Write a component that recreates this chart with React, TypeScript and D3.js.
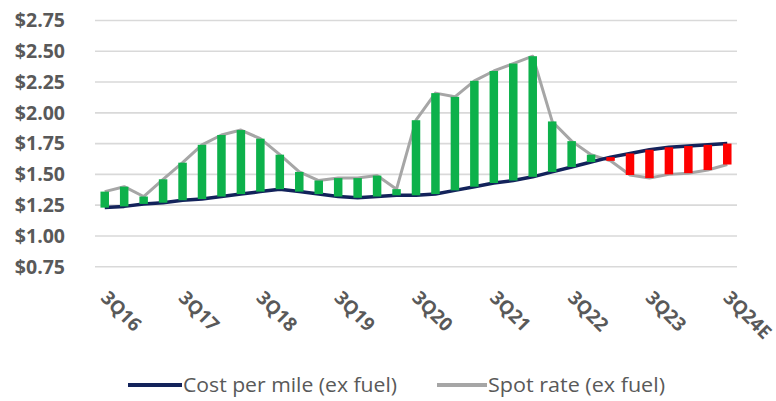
import React from "react";
import * as d3 from "d3";

const quarters = [
  "3Q16", "4Q16", "1Q17", "2Q17", "3Q17", "4Q17", "1Q18", "2Q18",
  "3Q18", "4Q18", "1Q19", "2Q19", "3Q19", "4Q19", "1Q20", "2Q20",
  "3Q20", "4Q20", "1Q21", "2Q21", "3Q21", "4Q21", "1Q22", "2Q22",
  "3Q22", "4Q22", "1Q23", "2Q23", "3Q23", "4Q23", "1Q24E", "2Q24E", "3Q24E",
];
const costPerMile = [
  1.23, 1.24, 1.26, 1.27, 1.29, 1.30, 1.32, 1.34, 1.36, 1.38, 1.36, 1.34,
  1.32, 1.31, 1.32, 1.33, 1.33, 1.34, 1.37, 1.40, 1.43, 1.45, 1.48, 1.52,
  1.56, 1.60, 1.64, 1.67, 1.70, 1.72, 1.73, 1.74, 1.75,
];
const spotRate = [
  1.36, 1.40, 1.32, 1.46, 1.595, 1.74, 1.82, 1.86, 1.79, 1.66, 1.52, 1.45,
  1.47, 1.47, 1.49, 1.38, 1.94, 2.16, 2.13, 2.26, 2.34, 2.40, 2.46, 1.93,
  1.77, 1.66, 1.61, 1.495, 1.47, 1.50, 1.51, 1.535, 1.58,
];
const yTicks = [0.75, 1.0, 1.25, 1.5, 1.75, 2.0, 2.25, 2.5, 2.75];
const xLabels = ["3Q16", "3Q17", "3Q18", "3Q19", "3Q20", "3Q21", "3Q22", "3Q23", "3Q24E"];
const seriesNames = ["Cost per mile (ex fuel)", "Spot rate (ex fuel)"];

const W = 776;
const H = 401;
const COST_COLOR = "#13235b";
const SPOT_COLOR = "#a6a6a6";
const GREEN = "#0db14b";
const RED = "#fe0000";
const TEXT = "#595959";
const FONT = "'Open Sans', 'Noto Sans', sans-serif";

export default function App() {
  const x = d3.scaleBand<string>().domain(quarters).range([95, 737]).paddingInner(0).paddingOuter(0);
  const y = d3.scaleLinear().domain([0.75, 2.75]).range([266.7, 20.5]);
  const cx = (q: string) => (x(q) ?? 0) + x.bandwidth() / 2;
  const barW = 8.5;

  const data = quarters.map((q, i) => ({ q, cost: costPerMile[i], spot: spotRate[i] }));
  const costLine = d3.line<typeof data[0]>().x((d) => cx(d.q)).y((d) => y(d.cost));
  const spotLine = d3.line<typeof data[0]>().x((d) => cx(d.q)).y((d) => y(d.spot));

  return (
    <svg width={W} height={H} style={{ position: "absolute", left: 0, top: 0, background: "#fff" }}>
      {yTicks.map((t) => (
        <g key={t}>
          <line x1={95} x2={737} y1={y(t)} y2={y(t)} stroke="#d9d9d9" strokeWidth={1.6} />
          <text
            x={65}
            y={y(t)}
            dy="0.35em"
            textAnchor="end"
            fontFamily={FONT}
            fontWeight={700}
            fontSize={19.5}
            fill={TEXT}
          >
            {d3.format("$.2f")(t)}
          </text>
        </g>
      ))}
      <path d={spotLine(data) ?? ""} fill="none" stroke={SPOT_COLOR} strokeWidth={3} strokeLinejoin="round" />
      <path d={costLine(data) ?? ""} fill="none" stroke={COST_COLOR} strokeWidth={3.5} strokeLinejoin="round" />
      {data.map((d) => {
        const top = y(Math.max(d.cost, d.spot));
        const bot = y(Math.min(d.cost, d.spot));
        return (
          <rect
            key={d.q}
            x={cx(d.q) - barW / 2}
            y={top}
            width={barW}
            height={Math.max(bot - top, 0.5)}
            fill={d.spot >= d.cost ? GREEN : RED}
          />
        );
      })}
      {xLabels.map((l) => (
        <text
          key={l}
          transform={`translate(${cx(l) - 5},${299}) rotate(45)`}
          textAnchor="start"
          fontFamily={FONT}
          fontWeight={700}
          fontSize={19}
          fill={TEXT}
        >
          {l}
        </text>
      ))}
      <g>
        <line x1={128} x2={182} y1={385} y2={385} stroke={COST_COLOR} strokeWidth={4} />
        <text
          x={183}
          y={385}
          dy="0.35em"
          fontFamily={FONT}
          fontSize={20}
          textLength={214}
          lengthAdjust="spacingAndGlyphs"
          fill={TEXT}
        >
          {seriesNames[0]}
        </text>
        <line x1={437} x2={487} y1={385} y2={385} stroke={SPOT_COLOR} strokeWidth={4} />
        <text
          x={488}
          y={385}
          dy="0.35em"
          fontFamily={FONT}
          fontSize={20}
          textLength={177}
          lengthAdjust="spacingAndGlyphs"
          fill={TEXT}
        >
          {seriesNames[1]}
        </text>
      </g>
    </svg>
  );
}
